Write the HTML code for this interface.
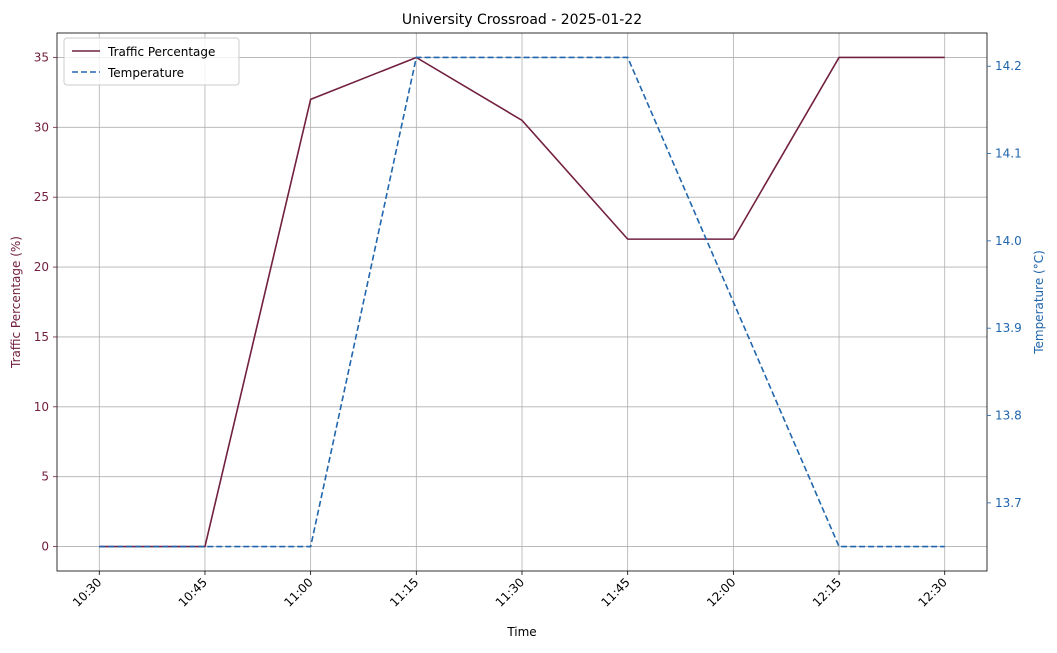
<!DOCTYPE html>
<html><head><meta charset="utf-8"><style>
body{margin:0;background:#fff;font-family:"Liberation Sans","DejaVu Sans",sans-serif}
</style></head><body>
<svg id="chart" width="1057" height="648" xmlns="http://www.w3.org/2000/svg" font-family="DejaVu Sans, Liberation Sans, sans-serif"></svg>
<script>
const categories=["10:30","10:45","11:00","11:15","11:30","11:45","12:00","12:15","12:30"];
const trafficValues=[0,0,32,35,30.5,22,22,35,35];
const tempValues=[13.65,13.65,13.65,14.21,14.21,14.21,13.93,13.65,13.65];
const leftTicks=[0,5,10,15,20,25,30,35];
const rightTicks=[13.7,13.8,13.9,14.0,14.1,14.2];

const L=57,R=987,T=33,B=571;
const cTraffic="#722040",cTemp="#2166ac";
const svg=document.getElementById('chart');
const NS="http://www.w3.org/2000/svg";
function mk(tag,attrs,parent){const e=document.createElementNS(NS,tag);for(const k in attrs)e.setAttribute(k,attrs[k]);(parent||svg).appendChild(e);return e;}
const n=categories.length;
const xs=i=>L+(R-L)*((i+0.4)/(n-1+0.8));
const lMin=Math.min(...trafficValues),lMax=Math.max(...trafficValues),lPad=(lMax-lMin)*0.05;
const yl=v=>B-(v-(lMin-lPad))/((lMax+lPad)-(lMin-lPad))*(B-T);
const rMin=Math.min(...tempValues),rMax=Math.max(...tempValues),rPad=(rMax-rMin)*0.05;
const yr=v=>B-(v-(rMin-rPad))/((rMax+rPad)-(rMin-rPad))*(B-T);

// grid
categories.forEach((c,i)=>{
 const g=mk('line',{x1:xs(i),x2:xs(i),y1:T,y2:B,stroke:'#b0b0b0','stroke-width':0.8});
 
});
leftTicks.forEach(v=>{
 const g=mk('line',{x1:L,x2:R,y1:yl(v),y2:yl(v),stroke:'#b0b0b0','stroke-width':0.8});
 
});
// lines
const pT=trafficValues.map((v,i)=>xs(i)+','+yl(v)).join(' ');
const lt=mk('polyline',{points:pT,fill:'none',stroke:cTraffic,'stroke-width':1.6});

const pR=tempValues.map((v,i)=>xs(i)+','+yr(v)).join(' ');
const lr=mk('polyline',{points:pR,fill:'none',stroke:cTemp,'stroke-width':1.6,'stroke-dasharray':'6,3'});

// frame
const fr=mk('rect',{x:L,y:T,width:R-L,height:B-T,fill:'none',stroke:'#000','stroke-width':0.8});

// x ticks
categories.forEach((c,i)=>{
 mk('line',{x1:xs(i),x2:xs(i),y1:B,y2:B+4,stroke:'#000','stroke-width':0.8});
 const t=mk('text',{x:xs(i)+3,y:B+12,'font-size':12,'text-anchor':'end',transform:`rotate(-45 ${xs(i)+3} ${B+12})`});
 t.textContent=c;
 
});
leftTicks.forEach(v=>{
 mk('line',{x1:L-4,x2:L,y1:yl(v),y2:yl(v),stroke:cTraffic,'stroke-width':0.8});
 const t=mk('text',{x:L-8,y:yl(v)+4,'font-size':12,'text-anchor':'end',fill:cTraffic});
 t.textContent=v;
 
});
rightTicks.forEach(v=>{
 mk('line',{x1:R,x2:R+4,y1:yr(v),y2:yr(v),stroke:cTemp,'stroke-width':0.8});
 const t=mk('text',{x:R+8,y:yr(v)+4,'font-size':12,fill:cTemp});
 t.textContent=v.toFixed(1);
 
});
</script>
<svg style="position:absolute;left:0;top:0" width="1057" height="648" font-family="DejaVu Sans, Liberation Sans, sans-serif">
<text x="522" y="24" font-size="14" text-anchor="middle">University Crossroad - 2025-01-22</text>
<text x="522" y="636" font-size="12" text-anchor="middle">Time</text>
<text x="20" y="302" font-size="12" text-anchor="middle" fill="#722040" transform="rotate(-90 20 302)">Traffic Percentage (%)</text>
<text x="1043" y="302" font-size="12" text-anchor="middle" fill="#2166ac" transform="rotate(-90 1043 302)">Temperature (°C)</text>
<g>
<rect x="64" y="38" width="175" height="47" rx="3" fill="#fff" fill-opacity="0.8" stroke="#ccc"/>
<line x1="72" y1="51" x2="100" y2="51" stroke="#722040" stroke-width="1.6"/>
<text x="108" y="56" font-size="12">Traffic Percentage</text>
<line x1="72" y1="72" x2="100" y2="72" stroke="#2166ac" stroke-width="1.6" stroke-dasharray="6,3"/>
<text x="108" y="77" font-size="12">Temperature</text>
</g>
</svg>
</body></html>
